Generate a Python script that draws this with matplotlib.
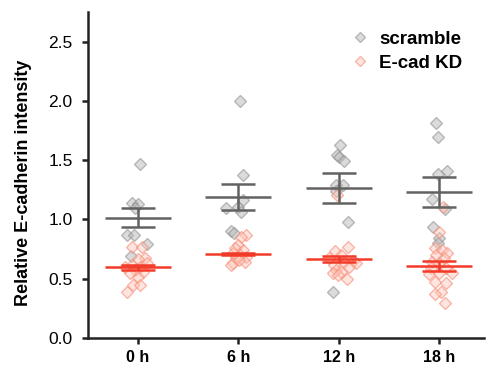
import matplotlib
matplotlib.use("Agg")
import matplotlib.pyplot as plt
from matplotlib.lines import Line2D
import numpy as np

plt.rcParams['font.family'] = ['Liberation Sans', 'DejaVu Sans']

categories = ["0 h", "6 h", "12 h", "18 h"]

scramble_values = [
    [1.47, 1.137, 1.128, 1.10, 0.87, 0.87, 0.79, 0.69],
    [1.996, 1.377, 1.166, 1.095, 1.104, 1.067, 0.904, 0.884],
    [1.63, 1.54, 1.53, 1.497, 1.292, 1.292, 1.236, 0.982, 0.39],
    [1.813, 1.695, 1.385, 1.41, 1.171, 1.087, 0.935, 0.842, 0.80],
]
scramble_jitter_px = [
    [2, -6, 0, -3, -11, -4, 9, -7],
    [1.5, 5, 5, -12, 0, 3, -7, -4.5],
    [1, -2, 0, 5.5, -3, 4.5, -3, 9.5, -6],
    [-3, -1, -1, 8, -7, 6, -6, 0, -1],
]
scramble_mean = [1.016, 1.188, 1.264, 1.233]
scramble_sem = [0.079, 0.112, 0.127, 0.124]

kd_values = [
    [0.77, 0.77, 0.673, 0.665, 0.60, 0.617, 0.597, 0.56, 0.574, 0.546, 0.518, 0.63, 0.448, 0.448, 0.39],
    [0.87, 0.856, 0.785, 0.757, 0.743, 0.715, 0.70, 0.687, 0.673, 0.63, 0.617, 0.645, 0.66],
    [1.208, 0.766, 0.73, 0.70, 0.673, 0.653, 0.63, 0.645, 0.617, 0.60, 0.574, 0.56, 0.546, 0.532, 0.495],
    [1.109, 0.89, 0.757, 0.743, 0.72, 0.70, 0.673, 0.645, 0.63, 0.588, 0.588, 0.546, 0.54, 0.546, 0.476, 0.462, 0.39, 0.37, 0.298],
]
kd_jitter_px = [
    [-6, 4, 7, 0, -13, -6, 2, 5, -3, -8, 0, 9, -5, 2, -11],
    [8, 3, 0, -3, 5, -5, 1.5, 8, -2, -5, -7, 6.5, 1],
    [-2, 9.5, -3.5, 2, -9.5, 14, 17, 5.5, -4.5, 10.5, -3, 2, -6, -1, 8],
    [4, 0, -4, 3, 8, -3, 5, -7, 0, 7, -8, 13, -10, 0, -4, 7, 2, -4, 6],
]
kd_mean = [0.597, 0.709, 0.665, 0.608]
kd_sem = [0.023, 0.012, 0.025, 0.043]

px_per_unit = 100.7

fig = plt.figure(figsize=(4.86, 3.70), dpi=100)
ax = fig.add_axes([0.181, 0.0865, 0.815, 0.881])

gray_line = "#626262"
red_line = "#f23a28"
gray_mfc = (0.72, 0.72, 0.72, 0.5)
gray_mec = (0.55, 0.55, 0.55, 0.55)
red_mfc = (1.0, 0.78, 0.72, 0.45)
red_mec = (0.96, 0.55, 0.47, 0.6)

for i in range(len(categories)):
    xs = i + np.array(scramble_jitter_px[i]) / px_per_unit
    ax.plot(xs, scramble_values[i], linestyle="none", marker="D", ms=6,
            mfc=gray_mfc, mec=gray_mec, mew=1.0, zorder=2)
    xs = i + np.array(kd_jitter_px[i]) / px_per_unit
    ax.plot(xs, kd_values[i], linestyle="none", marker="D", ms=6,
            mfc=red_mfc, mec=red_mec, mew=1.0, zorder=2)

for means, sems, col in [(scramble_mean, scramble_sem, gray_line), (kd_mean, kd_sem, red_line)]:
    for i, (m, s) in enumerate(zip(means, sems)):
        ax.hlines(m, i - 0.33, i + 0.33, color=col, lw=1.8, zorder=3)
        ax.hlines([m - s, m + s], i - 0.17, i + 0.17, color=col, lw=1.8, zorder=3)
        ax.vlines(i, m - s, m + s, color=col, lw=1.8, zorder=3)

ax.set_xlim(-0.5, 3.45)
ax.set_ylim(0, 2.75)
ax.set_yticks([0.0, 0.5, 1.0, 1.5, 2.0, 2.5])
ax.set_yticklabels(["0.0", "0.5", "1.0", "1.5", "2.0", "2.5"])
ax.set_xticks(range(len(categories)))
ax.set_xticklabels(categories, fontweight="bold")
ax.tick_params(axis="both", width=1.8, length=4.5, color="#222222")
ax.tick_params(axis="y", labelsize=12.5, pad=6.5)
ax.tick_params(axis="x", labelsize=11.5, pad=4)
for sp in ["top", "right"]:
    ax.spines[sp].set_visible(False)
for sp in ["left", "bottom"]:
    ax.spines[sp].set_linewidth(1.8)
    ax.spines[sp].set_color("#222222")
ax.set_ylabel("Relative E-cadherin intensity", fontsize=13, fontweight="bold")
ax.yaxis.set_label_coords(-0.141, 0.475)

handles = [
    Line2D([], [], linestyle="none", marker="D", ms=5,
           mfc=gray_mfc, mec=gray_mec, mew=1.0),
    Line2D([], [], linestyle="none", marker="D", ms=5,
           mfc=red_mfc, mec=red_mec, mew=1.0),
]
leg = ax.legend(handles, ["scramble", "E-cad KD"], loc="upper left",
                bbox_to_anchor=(0.664, 0.943), frameon=False,
                prop={"weight": "bold", "size": 13.5}, handletextpad=0.5,
                labelspacing=0.38, handlelength=1.0, borderpad=0, borderaxespad=0)

fig.savefig("out.png", dpi=100)
